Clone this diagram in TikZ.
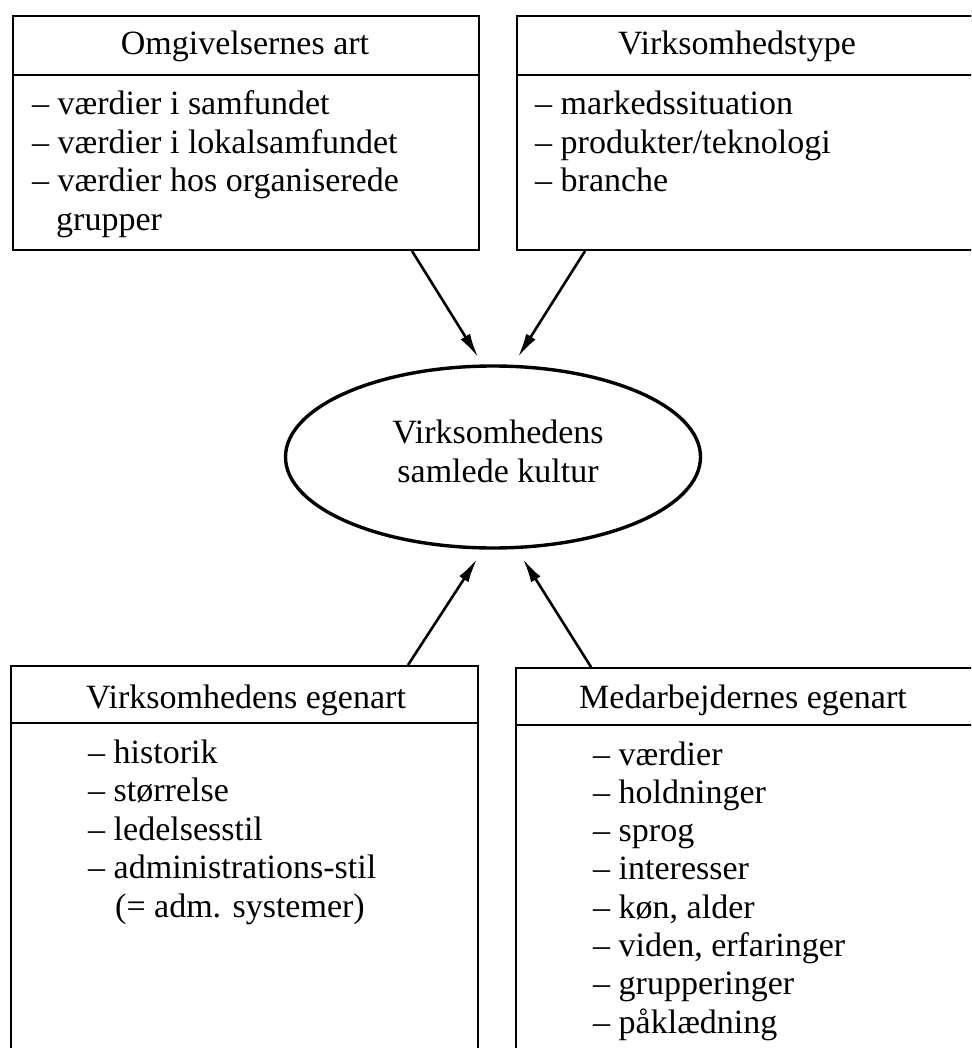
\documentclass[tikz,border=0pt]{standalone}
\usepackage{fontspec}
\setmainfont{Liberation Serif}
\usetikzlibrary{arrows.meta,shapes.geometric,calc}
\begin{document}
\begin{tikzpicture}[x=1pt,y=-1pt,
  box/.style={draw, line width=2pt, rectangle, inner sep=0pt, anchor=north west},
  sep/.style={line width=2pt},
  hdr/.style={font=\fontsize{34}{40}\selectfont, anchor=base, inner sep=0pt},
  item/.style={font=\fontsize{34}{40}\selectfont, anchor=base west, inner sep=0pt},
  oval/.style={draw, ellipse, line width=3.4pt, minimum width=415pt, minimum height=182pt, inner sep=0pt},
  arr/.style={line width=2.6pt, -{Latex[length=24pt,width=11pt]}}]
\useasboundingbox (0,0) rectangle (971,1048);
\clip (0,0) rectangle (971,1048);
\fill[white] (0,0) rectangle (971,1048);

% boxes
\node[box, minimum width=466pt, minimum height=234pt] (tl) at (12,15) {};
\node[box, minimum width=480pt, minimum height=234pt] (tr) at (516,15) {};
\node[box, minimum width=467pt, minimum height=420pt] (bl) at (10,665) {};
\node[box, minimum width=480pt, minimum height=420pt] (br) at (515,667) {};

% header separators
\draw[sep] ($(tl.north west)+(0,60)$) -- ($(tl.north east)+(0,60)$);
\draw[sep] ($(tr.north west)+(0,60)$) -- ($(tr.north east)+(0,60)$);
\draw[sep] ($(bl.north west)+(0,58)$) -- ($(bl.north east)+(0,58)$);
\draw[sep] ($(br.north west)+(0,58)$) -- ($(br.north east)+(0,58)$);

% headers
\node[hdr] (tlh) at (245,55) {Omgivelsernes art};
\node[hdr] (trh) at (737,55) {Virksomhedstype};
\node[hdr] (blh) at (246,708) {Virksomhedens egenart};
\node[hdr] (brh) at (743,708) {Medarbejdernes egenart};

% top-left items
\node[item] (tl1) at (32,115) {– værdier i samfundet};
\node[item] (tl2) at (32,153.5) {– værdier i lokalsamfundet};
\node[item] (tl3) at (32,192) {– værdier hos organiserede};
\node[item] (tl4) at (56,230.5) {grupper};

% top-right items
\node[item] (tr1) at (535,115) {– markedssituation};
\node[item] (tr2) at (535,153.5) {– produkter/teknologi};
\node[item] (tr3) at (535,192) {– branche};

% bottom-left items
\node[item] (bl1) at (88,763) {– historik};
\node[item] (bl2) at (88,801.5) {– størrelse};
\node[item] (bl3) at (88,840) {– ledelsesstil};
\node[item] (bl4) at (88,878.5) {– administrations-stil};
\node[item] (bl5) at (115,917) {(= adm. systemer)};

% bottom-right items
\foreach \t [count=\i] in {værdier, holdninger, sprog, interesser, {køn, alder}, {viden, erfaringer}, grupperinger, påklædning}
  \node[item] (br\i) at (593,{765+38.3*(\i-1)}) {– \t};

% ellipse
\node[oval] (ell) at (493,457) {};
\node[hdr] (ellt1) at (498,443) {Virksomhedens};
\node[hdr] (ellt2) at (498,482) {samlede kultur};

% arrows
\coordinate (a1s) at ($(tl.south west)+(400,0)$);
\coordinate (a1e) at (478,357);
\coordinate (a2s) at ($(tr.south west)+(69,0)$);
\coordinate (a2e) at (518,357);
\coordinate (a3s) at ($(bl.north west)+(398,0)$);
\coordinate (a3e) at (477,559);
\coordinate (a4s) at ($(br.north west)+(76,0)$);
\coordinate (a4e) at (523,559);
\draw[arr] (a1s) -- (a1e);
\draw[arr] (a2s) -- (a2e);
\draw[arr] (a3s) -- (a3e);
\draw[arr] (a4s) -- (a4e);
\end{tikzpicture}
\end{document}
